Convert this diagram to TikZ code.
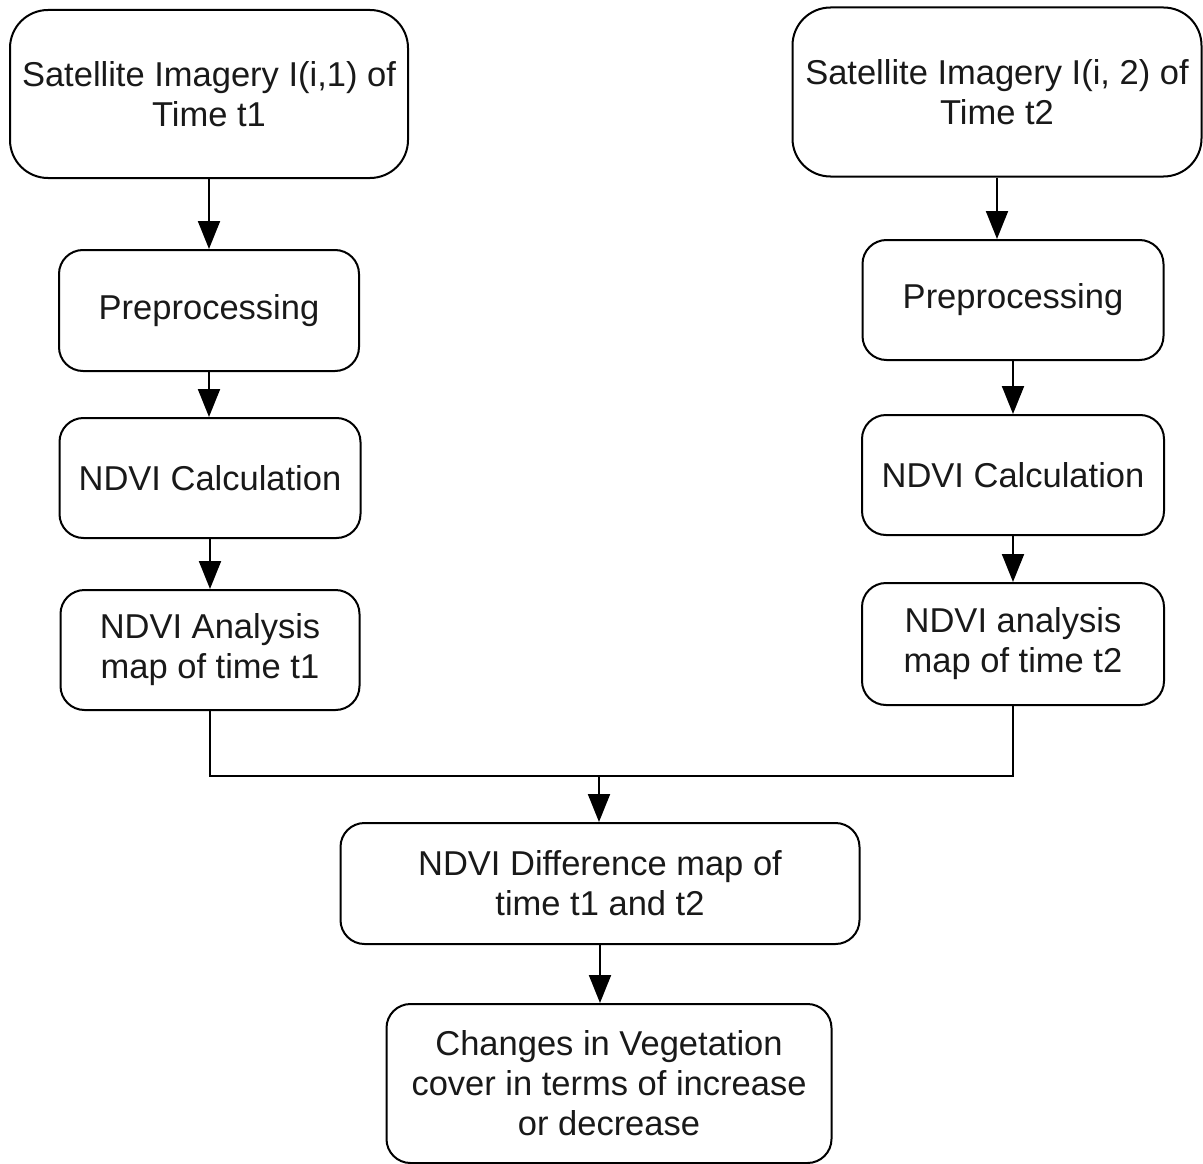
\documentclass[tikz,border=0pt]{standalone}
\usepackage{fontspec}
\setmainfont{Liberation Sans}
\usetikzlibrary{arrows.meta}
\begin{document}
\begin{tikzpicture}[x=1pt,y=-1pt,
  box/.style={draw=black, line width=2pt, rounded corners=24pt, align=center,
    inner sep=0pt, font=\fontsize{34.5}{40}\selectfont, text=black!90},
  bigbox/.style={box, rounded corners=38pt},
  arr/.style={line width=2pt, -{Triangle[width=22pt,length=28pt]}},
  ln/.style={line width=2pt}]
\useasboundingbox[fill=white] (0,0) rectangle (1203,1164);
\node[bigbox, minimum width=398pt, minimum height=168pt] (sat1) at (209,94) {Satellite Imagery I(i,1) of\\Time t1};
\node[bigbox, minimum width=409pt, minimum height=169pt] (sat2) at (997,92) {Satellite Imagery I(i, 2) of\\Time t2};
\node[box, minimum width=300pt, minimum height=121pt] (prep1) at (209,310.5) {Preprocessing};
\node[box, minimum width=301pt, minimum height=120pt] (prep2) at (1013,300) {Preprocessing};
\node[box, minimum width=301pt, minimum height=120pt] (calc1) at (210,478) {NDVI Calculation};
\node[box, minimum width=302pt, minimum height=120pt] (calc2) at (1013,475) {NDVI Calculation};
\node[box, minimum width=299pt, minimum height=120pt] (ana1) at (210,650) {NDVI Analysis\\map of time t1};
\node[box, minimum width=302pt, minimum height=122pt] (ana2) at (1013,644) {NDVI analysis\\map of time t2};
\node[box, minimum width=519pt, minimum height=121pt] (diff) at (600,883.5) {NDVI Difference map of\\time t1 and t2};
\node[box, minimum width=445pt, minimum height=159pt] (chg) at (609,1083.5) {Changes in Vegetation\\cover in terms of increase\\or decrease};
\coordinate (j) at (599,776);
\draw[arr] (sat1.south) -- (sat1.south |- prep1.north);
\draw[arr] (sat2.south) -- (sat2.south |- prep2.north);
\draw[arr] (prep1.south) -- (prep1.south |- calc1.north);
\draw[arr] (prep2.south) -- (prep2.south |- calc2.north);
\draw[arr] (calc1.south) -- (calc1.south |- ana1.north);
\draw[arr] (calc2.south) -- (calc2.south |- ana2.north);
\draw[ln] (ana1.south) -- (ana1.south |- j) -- (ana2.south |- j) -- (ana2.south);
\draw[arr] (j) -- (j |- diff.north);
\draw[arr] (diff.south) -- (diff.south |- chg.north);
\end{tikzpicture}
\end{document}
